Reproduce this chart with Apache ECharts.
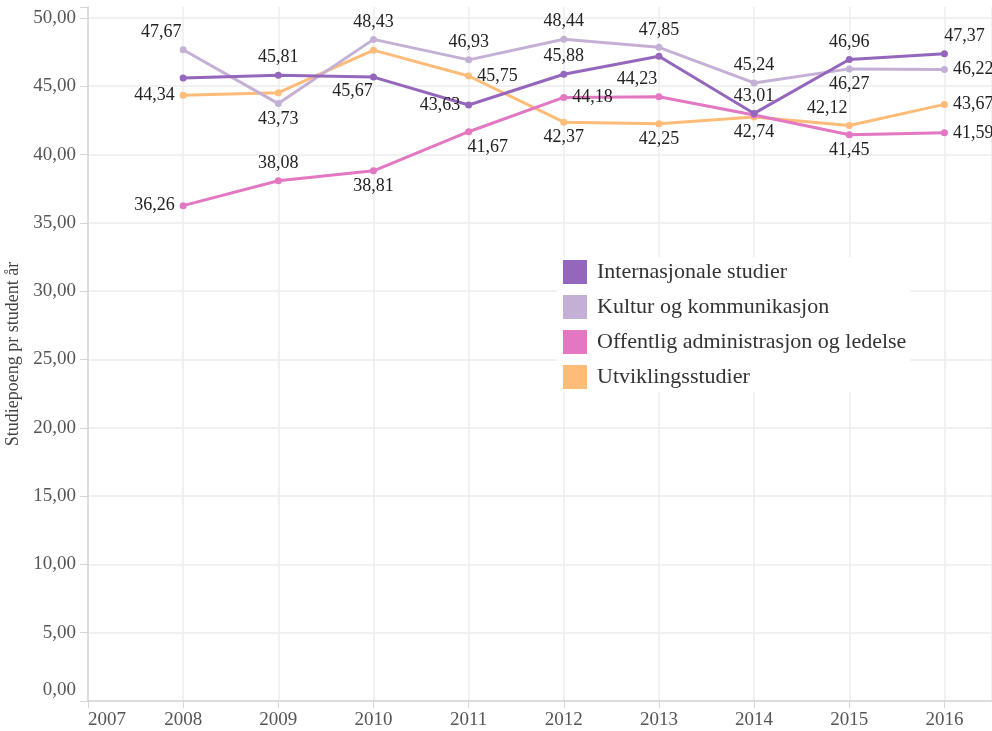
<!DOCTYPE html>
<html>
<head>
<meta charset="utf-8">
<script src="https://cdn.jsdelivr.net/npm/echarts@6/dist/echarts.min.js"></script>
<style>
  html, body { margin: 0; padding: 0; background: #fff; }
  #chart { width: 992px; height: 731px; }
</style>
</head>
<body>
<div id="chart"></div>
<script>
// år
const years = [2008, 2009, 2010, 2011, 2012, 2013, 2014, 2015, 2016];
// studiepoeng pr student år
const internasjonale = [45.60, 45.81, 45.67, 43.63, 45.88, 47.19, 43.01, 46.96, 47.37];
const kultur = [47.67, 43.73, 48.43, 46.93, 48.44, 47.85, 45.24, 46.27, 46.22];
const offentlig = [36.26, 38.08, 38.81, 41.67, 44.18, 44.23, 42.90, 41.45, 41.59];
const utvikling = [44.34, 44.53, 47.64, 45.75, 42.37, 42.25, 42.74, 42.12, 43.67];
const yTicks = [0, 5, 10, 15, 20, 25, 30, 35, 40, 45, 50];

const FONT = "Liberation Serif";

// hvor etiketten står for hvert punkt (null = skjult)
const place = {
  t: { position: "top", offset: [0, 0] },
  b: { position: "bottom", offset: [0, -2] },
  l: { position: "left", offset: [0, 0] },
  r: { position: "right", offset: [0, 0] },
  tl: { position: "top", offset: [-22, 0] },
  tr: { position: "top", offset: [20, 0] },
  bl: { position: "bottom", offset: [-21, -3] },
  br: { position: "bottom", offset: [19, -2] },
};
const labelsInt = [null, "t", "bl", "l", "t", null, "t", "t", "tr"];
const labelsKul = ["tl", "b", "t", "t", "t", "t", "t", "b", "r"];
const labelsOff = ["l", "t", "b", "br", "r", "tl", null, "b", "r"];
const labelsUtv = ["l", null, null, "r", "b", "b", "b", "tl", "r"];

function fmt(v) {
  return v.toFixed(2).replace(".", ",");
}

function makeData(values, labels) {
  let arr = [];
  for (let i = 0; i < years.length; i++) {
    let key = labels[i];
    let item = { value: [years[i], values[i]] };
    if (key) {
      item.label = { show: true, position: place[key].position, offset: place[key].offset };
    } else {
      item.label = { show: false };
    }
    arr.push(item);
  }
  return arr;
}

function makeSeries(name, color, values, labels) {
  return {
    name: name,
    type: "line",
    data: makeData(values, labels),
    symbol: "circle",
    symbolSize: 7,
    showAllSymbol: true,
    lineStyle: { width: 3, color: color },
    itemStyle: { color: color },
    label: {
      show: true,
      distance: 5,
      color: "#222",
      fontFamily: FONT,
      fontSize: 18,
      formatter: (p) => fmt(p.value[1]),
    },
    emphasis: { disabled: true },
  };
}

const names = ["Internasjonale studier", "Kultur og kommunikasjon", "Offentlig administrasjon og ledelse", "Utviklingsstudier"];

// 12 linjer: 0..50 og toppkanten (skjult)
const splitColors = yTicks.map(() => "#ececec").concat(["rgba(0,0,0,0)"]);

const option = {
  animation: false,
  backgroundColor: "#fff",
  grid: { left: 88, right: 0, top: 7, bottom: 30, containLabel: false, outerBoundsMode: "none" },
  legend: {
    data: names,
    orient: "vertical",
    left: 557,
    top: 257,
    padding: [3, 4, 3, 6],
    itemGap: 11,
    itemWidth: 24,
    itemHeight: 24,
    icon: "rect",
    backgroundColor: "#fff",
    textStyle: { fontFamily: FONT, fontSize: 22, color: "#333", padding: [0, 0, 0, 5] },
  },
  xAxis: {
    type: "value",
    min: 2007,
    max: 2016.5,
    interval: 1,
    axisLine: { show: true, lineStyle: { color: "#d6d6d6", width: 1.5 } },
    axisTick: { show: true, length: 7, lineStyle: { color: "#d6d6d6" } },
    axisLabel: {
      margin: 10,
      fontFamily: FONT,
      fontSize: 19,
      color: "#555",
      alignMinLabel: "left",
      formatter: (v) => (Number.isInteger(v) ? String(v) : ""),
    },
    splitLine: { show: true, lineStyle: { color: "#ececec", width: 1.5 } },
  },
  yAxis: {
    type: "value",
    min: 0,
    max: 50.8,
    interval: 5,
    name: "Studiepoeng pr student år",
    nameLocation: "middle",
    nameGap: 62,
    nameTextStyle: { fontFamily: FONT, fontSize: 18, color: "#444" },
    axisLine: { show: true, lineStyle: { color: "#d6d6d6", width: 1.5 } },
    axisTick: { show: true, length: 8, lineStyle: { color: "#d6d6d6" } },
    axisLabel: {
      margin: 12,
      fontFamily: FONT,
      fontSize: 19,
      color: "#555",
      formatter: (v) => {
        if (v > 50) return "";
        if (v === 0) return "{z|" + fmt(v) + "}";
        return fmt(v);
      },
      rich: {
        z: { fontFamily: FONT, fontSize: 19, color: "#555", padding: [0, 0, 22, 0] },
      },
    },
    splitLine: { show: true, lineStyle: { color: splitColors, width: 1.5 } },
  },
  series: [
    makeSeries(names[3], "#ffbb78", utvikling, labelsUtv),
    makeSeries(names[2], "#e377c2", offentlig, labelsOff),
    makeSeries(names[1], "#c5b0d5", kultur, labelsKul),
    makeSeries(names[0], "#9467bd", internasjonale, labelsInt),
  ],
};

var myChart = echarts.init(document.getElementById("chart"));
myChart.setOption(option);
</script>
</body>
</html>
